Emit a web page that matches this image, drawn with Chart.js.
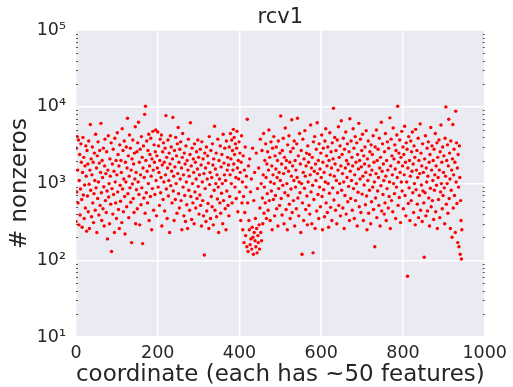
<!DOCTYPE html>
<html>
<head>
<meta charset="utf-8">
<script src="https://cdn.jsdelivr.net/npm/chart.js@4"></script>
<style>
  html, body { margin: 0; padding: 0; background: #ffffff; }
  #wrap { width: 513px; height: 387px; }
</style>
</head>
<body>
<div id="wrap"><canvas id="chart" width="513" height="387"></canvas></div>
<script>
const title = 'rcv1';
const xLabel = 'coordinate (each has ~50 features)';
const yLabel = '# nonzeros';

// tick positions
const xTicks = [0, 200, 400, 600, 800, 1000];
const yDecades = [10, 100, 1000, 10000, 100000];
const supers = { 1: '\u00B9', 2: '\u00B2', 3: '\u00B3', 4: '\u2074', 5: '\u2075' };

// number of nonzeros per coordinate, coordinate = array index
const nonzeros = [
  320, 2900, 780, 4100, 1500, 560, 3700, 290, 1100, 2400, 390, 850, 3300, 1900, 620, 270, 1400, 4000, 710, 2200, 350, 960, 1700, 480, 3100,
  1250, 240, 2700, 690, 1800, 430, 3600, 980, 260, 1500, 5900, 820, 2100, 370, 1300, 3000, 560, 1900, 310, 740, 2500, 1100, 450, 4400, 880,
  1600, 230, 2300, 640, 3500, 1050, 390, 1850, 2700, 520, 1400, 6100, 760, 330, 2000, 1200, 470, 2900, 910, 280, 1700, 3800, 600, 1350, 420,
  2600, 800, 190, 1500, 4200, 670, 1000, 300, 2100, 1250, 540, 3400, 130, 860, 1800, 400, 2800, 720, 1450, 230, 3900, 1050, 560, 2000, 350,
  1300, 4600, 780, 2400, 460, 1700, 260, 3200, 950, 590, 2000, 1400, 310, 5200, 850, 2700, 430, 1150, 3600, 680, 220, 1900, 1050, 3000, 500,
  1600, 7100, 740, 2300, 360, 1250, 4300, 880, 2900, 570, 1500, 170, 2100, 990, 3700, 640, 1800, 420, 2500, 1150, 5500, 300, 1400, 830, 2600,
  470, 3400, 1050, 6300, 720, 1900, 290, 2800, 1300, 530, 4100, 880, 2200, 165, 1600, 3100, 650, 1200, 8000, 410, 10200, 2000, 760, 3600, 1450,
  560, 2700, 1000, 4400, 330, 1700, 2400, 680, 3900, 1250, 250, 2100, 860, 4800, 1500, 450, 3200, 1900, 720, 2600, 5000, 1100, 380, 2300, 1600,
  4700, 900, 3100, 1400, 520, 2000, 3800, 760, 1200, 4300, 280, 1750, 2600, 620, 3400, 1050, 1900, 440, 2900, 1300, 7700, 850, 2200, 350, 1600,
  3700, 690, 1100, 2500, 230, 1800, 4200, 940, 3000, 1450, 560, 2100, 7300, 800, 1250, 330, 2700, 1650, 620, 4000, 1000, 2300, 410, 3300, 1350,
  5400, 740, 1900, 480, 2800, 1150, 3500, 600, 1600, 250, 2200, 4500, 900, 1300, 380, 2500, 700, 1800, 320, 3100, 1050, 530, 2000, 260, 1500,
  3800, 820, 1250, 450, 2400, 6200, 680, 1700, 340, 2900, 1000, 560, 2100, 1400, 300, 3300, 780, 1900, 480, 1150, 2600, 640, 1550, 3700, 920,
  2200, 400, 1300, 710, 2800, 520, 1750, 280, 3500, 1050, 600, 2100, 380, 1350, 117, 2500, 860, 1600, 320, 3000, 440, 1150, 2300, 550, 1850,
  260, 4100, 970, 1400, 350, 2700, 680, 1200, 500, 3300, 1750, 290, 2100, 820, 5600, 450, 1550, 1000, 2500, 370, 1300, 630, 3800, 900, 230,
  2000, 1150, 560, 3100, 410, 1650, 750, 2400, 1000, 300, 4400, 600, 1850, 1300, 2900, 470, 1100, 250, 3600, 800, 1500, 2200, 520, 1750, 380,
  3000, 680, 1300, 4500, 2100, 1000, 3700, 560, 2700, 1500, 5100, 1800, 4000, 2400, 900, 3300, 1200, 640, 2900, 4800, 1600, 430, 2000, 1150, 3500,
  780, 2500, 1400, 330, 1900, 4200, 560, 1050, 250, 2300, 680, 170, 1500, 420, 3000, 210, 900, 1250, 150, 6900, 560, 130, 1700, 330, 250,
  2100, 160, 780, 190, 1150, 140, 270, 2900, 200, 120, 600, 230, 1400, 180, 350, 150, 2500, 260, 125, 860, 210, 170, 1600, 290, 140,
  480, 3800, 230, 1000, 180, 2700, 650, 300, 1300, 4500, 410, 900, 2000, 560, 3300, 1200, 350, 1800, 740, 2600, 450, 1500, 5000, 600, 2200,
  330, 1050, 3500, 800, 1700, 250, 2900, 1300, 620, 4100, 1000, 380, 2300, 700, 1550, 3000, 470, 1200, 2000, 280, 3600, 860, 1400, 520, 2500,
  1100, 7600, 640, 1800, 390, 2700, 950, 3900, 1350, 300, 2200, 760, 5300, 1600, 460, 2000, 1000, 250, 3200, 700, 1450, 4200, 540, 1900, 350,
  2600, 850, 1250, 6800, 420, 1700, 2900, 600, 1100, 3600, 280, 2000, 900, 1500, 470, 3300, 1200, 7100, 650, 2300, 380, 1050, 4500, 760, 1800,
  230, 2700, 1000, 120, 560, 3800, 1400, 330, 2100, 870, 4900, 1250, 460, 1700, 2500, 690, 290, 3100, 1050, 1900, 520, 2400, 400, 1300, 5800,
  780, 1600, 300, 2200, 950, 125, 3500, 620, 1450, 4100, 260, 1800, 1100, 2800, 440, 6200, 1350, 720, 2000, 350, 3300, 900, 1550, 500, 2500,
  1200, 4300, 680, 250, 1900, 2900, 830, 1400, 370, 3600, 1050, 5200, 560, 2300, 1700, 420, 3000, 1000, 270, 2000, 750, 4600, 1300, 490, 2600,
  1600, 330, 3400, 880, 2100, 9600, 610, 1250, 4000, 1800, 450, 2700, 1100, 300, 3700, 760, 1500, 5500, 520, 2200, 1000, 3100, 380, 1700, 6600,
  820, 2400, 1350, 480, 3900, 1050, 260, 2800, 700, 1600, 4700, 400, 2000, 1200, 3300, 580, 1800, 920, 2600, 330, 7000, 1450, 640, 3600, 1100,
  2200, 450, 1700, 5200, 860, 2900, 350, 1300, 4100, 600, 1900, 1000, 3400, 280, 2400, 770, 1550, 6100, 500, 2000, 1150, 3800, 420, 1650, 2700,
  730, 4400, 1250, 330, 2300, 960, 1800, 3000, 530, 1400, 4900, 690, 250, 2100, 1100, 3600, 410, 1700, 820, 2600, 1300, 300, 3200, 580, 1500,
  2400, 900, 4200, 460, 1900, 1050, 150, 3000, 650, 1350, 5000, 360, 2000, 800, 2800, 1200, 520, 3900, 1600, 280, 2200, 940, 6300, 440, 1450,
  3300, 720, 1800, 1100, 400, 2600, 560, 4500, 1250, 330, 2000, 860, 3500, 1500, 480, 2900, 680, 1050, 7200, 260, 1700, 3800, 600, 2300, 1300,
  430, 5300, 1000, 2100, 740, 3200, 1550, 350, 2700, 900, 4300, 1200, 10200, 520, 1900, 2500, 660, 3700, 1400, 310, 2200, 1050, 4800, 800, 1700,
  3000, 470, 2400, 1300, 5600, 700, 1900, 380, 3400, 1050, 2800, 62, 1600, 550, 4100, 880, 2000, 330, 1250, 3600, 600, 2600, 1450, 4700, 760,
  1800, 420, 3100, 1000, 2200, 290, 5100, 830, 1500, 2700, 540, 1200, 3900, 360, 2000, 700, 1350, 6000, 450, 2500, 960, 1700, 320, 3300, 800,
  1400, 560, 110, 2100, 760, 4200, 380, 1600, 1050, 2900, 440, 1250, 3500, 650, 1900, 280, 2400, 870, 5400, 500, 1500, 3100, 600, 1100, 2000,
  340, 2800, 820, 1300, 4500, 430, 1700, 950, 3400, 260, 2200, 1200, 620, 3700, 1500, 360, 2600, 780, 5800, 1000, 1900, 470, 3000, 700, 1400,
  2300, 880, 300, 3900, 1250, 10000, 540, 2000, 1000, 3200, 410, 1700, 6900, 640, 2500, 1150, 260, 3600, 820, 1500, 200, 2100, 5900, 480, 1300,
  2800, 700, 1900, 230, 8800, 1050, 3400, 550, 1600, 170, 2400, 900, 150, 3100, 1200, 120, 600, 330, 104, 250
];

const TextColor = '#262626';
const FontFamily = '"DejaVu Sans", sans-serif';

function isDecade(v) {
    const l = Math.log10(v);
    return Math.abs(l - Math.round(l)) < 1e-9;
}

// grey plot background
const plotBackground = {
    id: 'plotBackground',
    beforeDraw(chart) {
        const { ctx, chartArea } = chart;
        ctx.save();
        ctx.fillStyle = '#EAEAF2';
        ctx.fillRect(chartArea.left, chartArea.top, chartArea.right - chartArea.left, chartArea.bottom - chartArea.top);
        ctx.restore();
    }
};

// small inward minor ticks on both sides of the log axis
const minorTicks = {
    id: 'minorTicks',
    afterDraw(chart) {
        const { ctx, chartArea } = chart;
        const y = chart.scales.y;
        ctx.save();
        ctx.strokeStyle = '#555555';
        ctx.lineWidth = 1;
        ctx.beginPath();
        for (let d = 0; d < yDecades.length - 1; d++) {
            for (let m = 2; m <= 9; m++) {
                const py = Math.round(y.getPixelForValue(m * yDecades[d])) + 0.5;
                ctx.moveTo(chartArea.left, py);
                ctx.lineTo(chartArea.left + 2, py);
                ctx.moveTo(chartArea.right - 2, py);
                ctx.lineTo(chartArea.right, py);
            }
        }
        ctx.stroke();
        ctx.restore();
    }
};

const points = nonzeros.map((v, i) => ({ x: i, y: v }));

new Chart(document.getElementById('chart'), {
    type: 'scatter',
    data: {
        datasets: [{
            data: points,
            backgroundColor: '#ff0000',
            borderWidth: 0,
            pointRadius: 1.7,
            pointHoverRadius: 1.7
        }]
    },
    options: {
        responsive: false,
        animation: false,
        layout: {
            padding: { top: 0, right: 27, bottom: 0, left: 0 }
        },
        plugins: {
            legend: { display: false },
            tooltip: { enabled: false },
            title: {
                display: true,
                fullSize: false,
                text: title,
                color: TextColor,
                font: { family: FontFamily, size: 21, weight: 'normal' },
                padding: { top: 5, bottom: 0 }
            }
        },
        scales: {
            x: {
                type: 'linear',
                min: 0,
                max: 1000,
                afterBuildTicks: (scale) => {
                    scale.ticks = xTicks.map(v => ({ value: v }));
                },
                afterFit: (scale) => { scale.height = 50; },
                grid: { color: '#ffffff', lineWidth: 1.5, drawTicks: false },
                border: { display: false },
                ticks: {
                    color: TextColor,
                    font: { family: FontFamily, size: 17.5 },
                    padding: 6,
                    maxRotation: 0,
                    callback: (value) => String(value)
                },
                title: {
                    display: true,
                    text: xLabel,
                    color: TextColor,
                    font: { family: FontFamily, size: 23 },
                    padding: { top: 0, bottom: -2 }
                }
            },
            y: {
                type: 'logarithmic',
                min: 10,
                max: 100000,
                afterFit: (scale) => { scale.width = 76; },
                grid: {
                    color: (ctx) => (ctx.tick && isDecade(ctx.tick.value)) ? '#ffffff' : 'rgba(0,0,0,0)',
                    lineWidth: 1.5,
                    drawTicks: false
                },
                border: { display: false },
                ticks: {
                    autoSkip: false,
                    color: TextColor,
                    font: { family: FontFamily, size: 17.5 },
                    padding: 10,
                    callback: function(value) {
                        if (!isDecade(value)) return '';
                        return '10' + supers[Math.round(Math.log10(value))];
                    }
                },
                title: {
                    display: true,
                    text: yLabel,
                    color: TextColor,
                    font: { family: FontFamily, size: 23 },
                    padding: { top: 6, bottom: 0 }
                }
            }
        }
    },
    plugins: [plotBackground, minorTicks]
});
</script>
</body>
</html>
